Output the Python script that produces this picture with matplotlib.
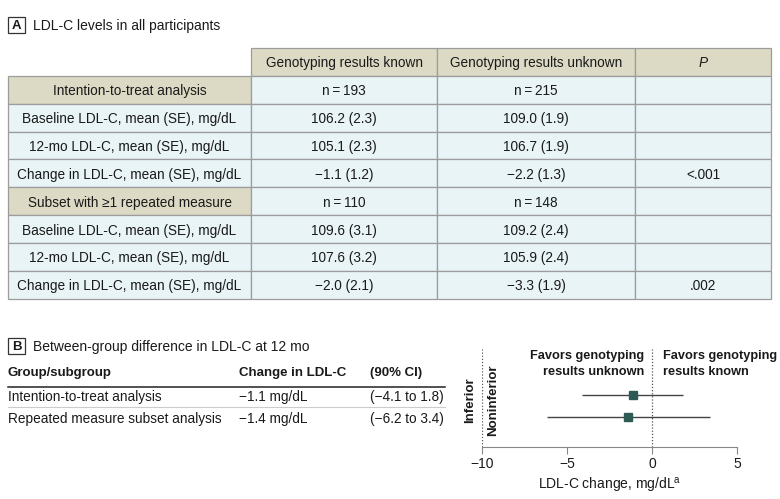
import matplotlib.pyplot as plt
from matplotlib.patches import Rectangle

plt.rcParams['font.family'] = ['Liberation Sans', 'DejaVu Sans']

# Panel A data
col_headers = ['Genotyping results known', 'Genotyping results unknown', 'P']
row_labels = ['Intention-to-treat analysis',
              'Baseline LDL-C, mean (SE), mg/dL',
              '12-mo LDL-C, mean (SE), mg/dL',
              'Change in LDL-C, mean (SE), mg/dL',
              'Subset with \u22651 repeated measure',
              'Baseline LDL-C, mean (SE), mg/dL',
              '12-mo LDL-C, mean (SE), mg/dL',
              'Change in LDL-C, mean (SE), mg/dL']
known = ['n\u2009=\u2009193', '106.2 (2.3)', '105.1 (2.3)', '\u22121.1 (1.2)',
         'n\u2009=\u2009110', '109.6 (3.1)', '107.6 (3.2)', '\u22122.0 (2.1)']
unknown = ['n\u2009=\u2009215', '109.0 (1.9)', '106.7 (1.9)', '\u22122.2 (1.3)',
           'n\u2009=\u2009148', '109.2 (2.4)', '105.9 (2.4)', '\u22123.3 (1.9)']
pvals = ['', '', '', '<.001', '', '', '', '.002']
section_rows = [0, 4]

# Panel B data
groups = ['Intention-to-treat analysis', 'Repeated measure subset analysis']
change = [-1.1, -1.4]
ci_low = [-4.1, -6.2]
ci_high = [1.8, 3.4]

KHAKI = '#dcdac4'
BLUE = '#e8f4f6'
GRID = '#9c9c9c'
TXT = '#1a1a1a'
FS = 9.8

fig = plt.figure(figsize=(7.8, 4.99), dpi=100)
ax = fig.add_axes([0, 0, 1, 1])
ax.set_xlim(0, 780)
ax.set_ylim(499, 0)
ax.axis('off')

# panel labels
def panel_label(x, y, letter, title):
    ax.add_patch(Rectangle((x, y - 8), 17, 16, fill=False, ec='#333333', lw=0.9))
    ax.text(x + 8.5, y + 1, letter, ha='center', va='center', fontsize=9.5, fontweight='bold', color=TXT)
    ax.text(x + 25, y + 1, title, ha='left', va='center', fontsize=10, color=TXT)

panel_label(8, 25, 'A', 'LDL-C levels in all participants')

# table A
col_x = [8, 251, 437, 635, 771]
top = 48
rh = 27.85
n_rows = len(row_labels) + 1
for r in range(n_rows):
    y0 = top + r * rh
    for c in range(4):
        if r == 0 and c == 0:
            continue
        if r == 0 or (c == 0 and (r - 1) in section_rows):
            fc = KHAKI
        else:
            fc = BLUE
        ax.add_patch(Rectangle((col_x[c], y0), col_x[c + 1] - col_x[c], rh,
                               fc=fc, ec=GRID, lw=0.9))
    yc = y0 + rh / 2 + 1.5
    if r == 0:
        for c, h in enumerate(col_headers):
            ax.text((col_x[c + 1] + col_x[c + 2]) / 2, yc, h, ha='center', va='center',
                    fontsize=FS, color=TXT, style='italic' if h == 'P' else 'normal')
    else:
        i = r - 1
        cells = [row_labels[i], known[i], unknown[i], pvals[i]]
        for c, t in enumerate(cells):
            ax.text((col_x[c] + col_x[c + 1]) / 2, yc, t, ha='center', va='center',
                    fontsize=FS, color=TXT)

# panel B
panel_label(8, 346, 'B', 'Between-group difference in LDL-C at 12 mo')
hx = [8, 239, 370]
ax.text(hx[0], 373, 'Group/subgroup', ha='left', va='center', fontsize=9.5, fontweight='bold', color=TXT)
ax.text(hx[1], 373, 'Change in LDL-C', ha='left', va='center', fontsize=9.5, fontweight='bold', color=TXT)
ax.text(hx[2], 373, '(90% CI)', ha='left', va='center', fontsize=9.5, fontweight='bold', color=TXT)
ax.plot([8, 445], [387, 387], color='#222222', lw=1.1)
ax.plot([8, 445], [407, 407], color='#cccccc', lw=0.8)
row_y = [397.5, 418.5]
for g, ch, lo, hi, y in zip(groups, change, ci_low, ci_high, row_y):
    ax.text(hx[0], y, g, ha='left', va='center', fontsize=FS, color=TXT)
    ax.text(hx[1], y, f'{ch:.1f} mg/dL'.replace('-', '\u2212'), ha='left', va='center', fontsize=FS, color=TXT)
    ax.text(hx[2], y, f'({lo:.1f} to {hi:.1f})'.replace('-', '\u2212'), ha='left', va='center', fontsize=FS, color=TXT)

# forest plot
fax = fig.add_axes([482 / 780, (499 - 447) / 499, 255 / 780, (447 - 349) / 499])
fax.patch.set_visible(False)
fax.set_xlim(-10, 5)
ypos = [0, 1]
fax.set_ylim(2.36, -2.09)
fax.axvline(-10, color='#555555', lw=0.9, ls=(0, (1, 1.5)))
fax.axvline(0, color='#555555', lw=0.9, ls=(0, (1, 1.5)))
fax.hlines(ypos, ci_low, ci_high, color='#444444', lw=1.0)
fax.plot(change, ypos, 's', color='#2d5a55', ms=5.8)
for s in ['top', 'right', 'left']:
    fax.spines[s].set_visible(False)
fax.spines['bottom'].set_color('#888888')
fax.set_yticks([])
fax.set_xticks([-10, -5, 0, 5])
fax.set_xticklabels(['\u221210', '\u22125', '0', '5'])
fax.tick_params(axis='x', length=5, color='#888888', labelsize=10, labelcolor=TXT, pad=2)
fax.set_xlabel('LDL-C change, mg/dL$^{\\mathregular{a}}$', fontsize=10, color=TXT, labelpad=4)

ax.text(644, 364, 'Favors genotyping\nresults unknown', ha='right', va='center',
        fontsize=9.2, fontweight='bold', color=TXT, linespacing=1.45)
ax.text(663, 364, 'Favors genotyping\nresults known', ha='left', va='center',
        fontsize=9.2, fontweight='bold', color=TXT, linespacing=1.45)
ax.text(470, 400, 'Inferior', ha='center', va='center', rotation=90,
        fontsize=9.5, fontweight='bold', color=TXT)
ax.text(493, 400, 'Noninferior', ha='center', va='center', rotation=90,
        fontsize=9.5, fontweight='bold', color=TXT)

fig.savefig('out.png', dpi=100)
